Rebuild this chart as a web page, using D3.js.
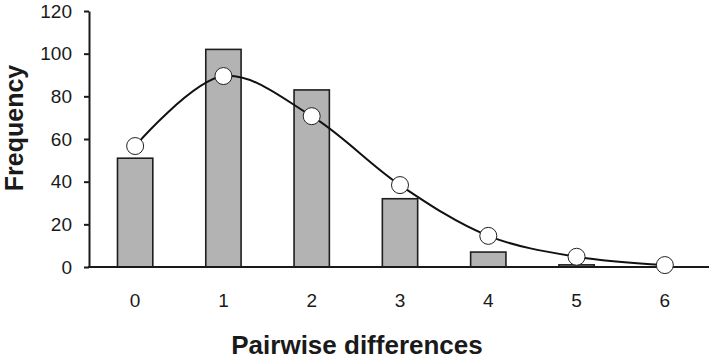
<!DOCTYPE html>
<html>
<head>
<meta charset="utf-8">
<script src="https://cdn.jsdelivr.net/npm/d3@7"></script>
<style>
  html, body { margin: 0; padding: 0; background: #fff; }
  svg text { font-family: "Liberation Sans", Arial, Helvetica, sans-serif; fill: #1a1a1a; }
</style>
</head>
<body>
<div id="chart"></div>
<script>
// pairwise differences (mismatch distribution)
const categories = [0, 1, 2, 3, 4, 5, 6];
const observed = [51, 102, 83, 32, 7, 1, 0];
const expected = [56.7, 89.5, 70.7, 38.4, 14.6, 4.8, 0.9];
const yTicks = [0, 20, 40, 60, 80, 100, 120];

const width = 715, height = 361;
const axisX = 89, axisY = 267, topY = 11, rightX = 709;

const svg = d3.select("#chart").append("svg")
  .attr("width", width)
  .attr("height", height);

const x = d3.scaleBand()
  .domain(categories)
  .range([91, rightX])
  .paddingInner(0.6)
  .paddingOuter(0.3);

const y = d3.scaleLinear()
  .domain([0, 120])
  .range([axisY, topY]);

const cx = d => x(d) + x.bandwidth() / 2;

// bars
svg.append("g").selectAll("rect")
  .data(categories)
  .join("rect")
  .attr("x", d => x(d))
  .attr("y", (d, i) => y(observed[i]))
  .attr("width", x.bandwidth())
  .attr("height", (d, i) => axisY - y(observed[i]))
  .attr("fill", "#b3b3b3")
  .attr("stroke", "#1e1e1e")
  .attr("stroke-width", 1.6)
  .attr("display", (d, i) => observed[i] > 0 ? null : "none");

// y axis
const yAxisG = svg.append("g")
  .attr("transform", `translate(${axisX},0)`)
  .call(d3.axisLeft(y).tickValues(yTicks).tickSize(5).tickSizeOuter(0).tickPadding(12));
yAxisG.select(".domain").attr("stroke", "#1a1a1a").attr("stroke-width", 2);
yAxisG.selectAll(".tick line").attr("stroke", "#1a1a1a").attr("stroke-width", 2);
yAxisG.selectAll(".tick text")
  .attr("font-size", 19)
  .attr("font-family", null)
  .attr("fill", "#1a1a1a");

// x axis
const xAxisG = svg.append("g")
  .attr("transform", `translate(0,${axisY})`)
  .call(d3.axisBottom(x).tickSize(0).tickPadding(27));
xAxisG.select(".domain").remove();
xAxisG.append("line")
  .attr("x1", axisX - 1).attr("x2", rightX)
  .attr("stroke", "#1a1a1a").attr("stroke-width", 2);
xAxisG.selectAll(".tick text")
  .attr("font-size", 19)
  .attr("font-family", null)
  .attr("fill", "#1a1a1a");

// expected curve
const line = d3.line()
  .x((d, i) => cx(categories[i]))
  .y(d => y(d))
  .curve(d3.curveCatmullRom.alpha(0.5));

svg.append("path")
  .datum(expected)
  .attr("d", line)
  .attr("fill", "none")
  .attr("stroke", "#111")
  .attr("stroke-width", 2);

svg.append("g").selectAll("circle")
  .data(expected)
  .join("circle")
  .attr("cx", (d, i) => cx(categories[i]))
  .attr("cy", d => y(d))
  .attr("r", 8.5)
  .attr("fill", "#fff")
  .attr("stroke", "#222")
  .attr("stroke-width", 1);

// axis titles
svg.append("text")
  .attr("x", 357)
  .attr("y", 354)
  .attr("text-anchor", "middle")
  .attr("font-size", 26)
  .attr("font-weight", "bold")
  .text("Pairwise differences");

svg.append("text")
  .attr("transform", "translate(23,128) rotate(-90)")
  .attr("text-anchor", "middle")
  .attr("font-size", 25)
  .attr("font-weight", "bold")
  .text("Frequency");
</script>
</body>
</html>
